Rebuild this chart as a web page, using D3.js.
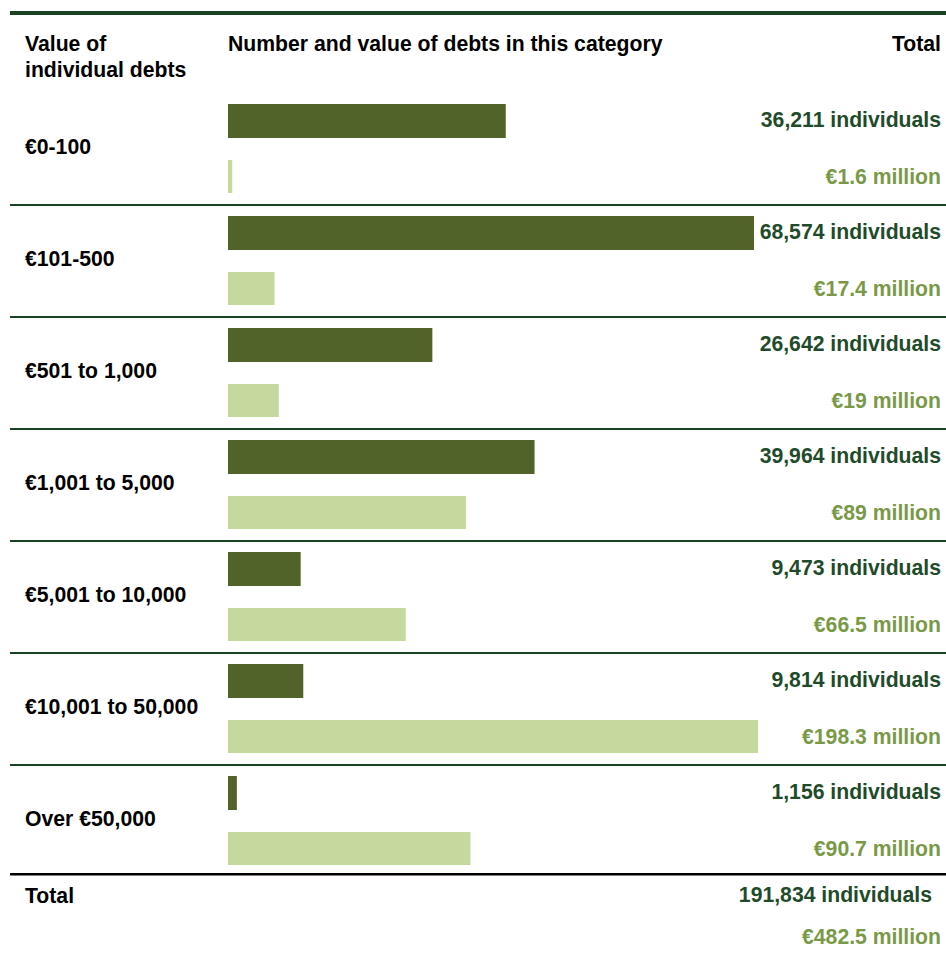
<!DOCTYPE html>
<html>
<head>
<meta charset="utf-8">
<script src="https://cdn.jsdelivr.net/npm/d3@7/dist/d3.min.js"></script>
<style>
  html, body { margin: 0; padding: 0; background: #fff; }
  svg text { font-family: "Liberation Sans", Arial, sans-serif; font-weight: bold; }
</style>
</head>
<body>
<svg id="chart" width="946" height="962"></svg>
<script>
// Debt bands and the two measures per band
const categories = ["€0-100", "€101-500", "€501 to 1,000", "€1,001 to 5,000",
                    "€5,001 to 10,000", "€10,001 to 50,000", "Over €50,000"];
const individuals = [36211, 68574, 26642, 39964, 9473, 9814, 1156];
const valueMillions = [1.6, 17.4, 19, 89, 66.5, 198.3, 90.7];
const headers = ["Value of", "individual debts"];
const middleHeader = "Number and value of debts in this category";
const totalHeader = "Total";

const W = 946;
const svg = d3.select("#chart");

const colDark = "#52632a", colLight = "#c5d89e";
const txtDark = "#1f4b2a", txtLight = "#7a9947";
const ruleCol = "#1b4223";

const barX = 228, labelX = 25, rightX = 941;
const rowTop = 93, rowH = 112;

const rows = d3.range(categories.length);
const y = d3.scaleBand().domain(rows).range([rowTop, rowTop + rowH * rows.length]).paddingInner(0);

const xCount = d3.scaleLinear().domain([0, d3.max(individuals)]).range([0, 526]);
const xValue = d3.scaleLinear().domain([0, d3.max(valueMillions)]).range([0, 530]);

const fmtCount = d3.format(",");
const countLabel = v => fmtCount(v) + " individuals";
const valueLabel = v => "€" + d3.format("~f")(v) + " million";

// top rule
svg.append("rect").attr("x", 10).attr("y", 11).attr("width", W - 10).attr("height", 4).attr("fill", ruleCol);

// header
const fs = "21.2px";
svg.append("text").attr("x", labelX).attr("y", 50.5).attr("font-size", fs).attr("fill", "#000")
  .selectAll("tspan").data(headers).join("tspan")
  .attr("x", labelX).attr("dy", (d, i) => i ? 26 : 0).text(d => d);
svg.append("text").attr("x", barX).attr("y", 50.5).attr("font-size", fs).attr("fill", "#000").text(middleHeader);
svg.append("text").attr("x", rightX).attr("y", 50.5).attr("font-size", fs).attr("fill", "#000")
  .attr("text-anchor", "end").text(totalHeader);

const g = svg.append("g");
const row = g.selectAll("g.row").data(rows).join("g").attr("class", "row")
  .attr("transform", i => `translate(0,${y(i)})`);

row.append("rect").attr("x", barX).attr("y", 11).attr("height", 34)
  .attr("width", i => xCount(individuals[i])).attr("fill", colDark);
row.append("rect").attr("x", barX).attr("y", 67).attr("height", 33)
  .attr("width", i => xValue(valueMillions[i])).attr("fill", colLight);

row.append("text").attr("x", labelX).attr("y", 61).attr("font-size", fs).attr("fill", "#000")
  .text(i => categories[i]);
row.append("text").attr("x", rightX).attr("y", 34).attr("font-size", fs).attr("fill", txtDark)
  .attr("text-anchor", "end").text(i => countLabel(individuals[i]));
row.append("text").attr("x", rightX).attr("y", 91).attr("font-size", fs).attr("fill", txtLight)
  .attr("text-anchor", "end").text(i => valueLabel(valueMillions[i]));

// separators between bands
row.filter(i => i < rows.length - 1).append("rect")
  .attr("x", 10).attr("y", rowH - 1).attr("width", W - 10).attr("height", 2).attr("fill", ruleCol);

// totals
const totalTop = 873;
svg.append("rect").attr("x", 10).attr("y", totalTop).attr("width", W - 10).attr("height", 2.5).attr("fill", "#000");
svg.append("text").attr("x", labelX).attr("y", totalTop + 29.5).attr("font-size", fs).attr("fill", "#000").text("Total");
svg.append("text").attr("x", 932).attr("y", totalTop + 28.5).attr("font-size", fs).attr("fill", txtDark)
  .attr("text-anchor", "end").text(countLabel(d3.sum(individuals)));
svg.append("text").attr("x", rightX).attr("y", totalTop + 70.5).attr("font-size", fs).attr("fill", txtLight)
  .attr("text-anchor", "end").text(valueLabel(Math.round(d3.sum(valueMillions) * 10) / 10));
</script>
</body>
</html>
